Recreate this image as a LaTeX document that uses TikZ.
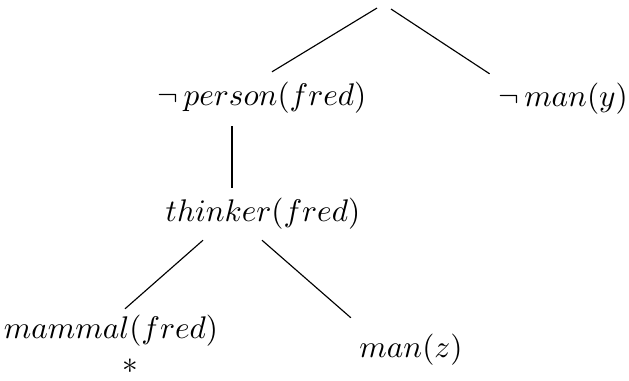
\documentclass[tikz,border=0pt]{standalone}
\usepackage{amsmath,amssymb}
\usepackage{tikz}
\usetikzlibrary{positioning,calc}

\begin{document}
\begin{tikzpicture}[x=0.35pt,y=-0.35pt,every node/.style={font=\fontsize{10.8}{13}\selectfont},
  term/.style={inner sep=0pt}]
\useasboundingbox (0,0) rectangle (629,380);
% refutation tree
\coordinate (root) at (384,8);
\node[term] (per) at (262,98) {$\neg\,person(fred)$};
\node[term] (many) at (563,99) {$\neg\,man(y)$};
\node[term] (thk) at (263,214) {$thinker(fred)$};
\node[term] (mam) at (111,331) {$mammal(fred)$};
\node[term] (manz) at (411,350) {$man(z)$};
\node (star) at (130,366) {$*$};
% branches
\draw ($(root)+(-7,0)$) -- ($(per.north)+(10,-10)$);
\draw ($(root)+(7,1)$) -- ($(many.north west)+(-8,-9)$);
\draw[semithick] ($(per.south)+(-30,12)$) -- ($(thk.north)+(-31,-10)$);
\draw ($(thk.south)+(-60,10)$) -- ($(mam.north)+(14,-6)$);
\draw ($(thk.south)+(-1,10)$) -- ($(manz.north west)+(-8,-16)$);
\end{tikzpicture}
\end{document}
